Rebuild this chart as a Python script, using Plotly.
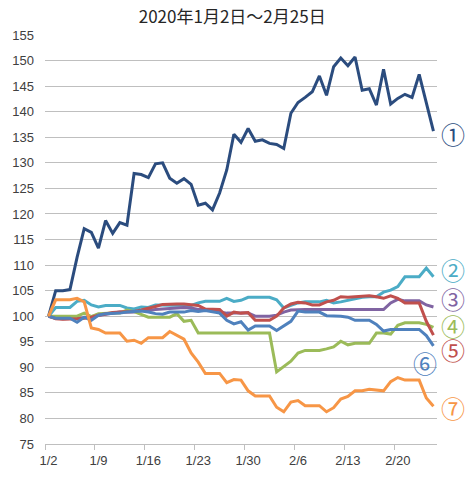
import plotly.graph_objects as go

# one category per calendar day, 2020-01-02 .. 2020-02-25
days = list(range(55))
tick_pos = [0, 7, 14, 21, 28, 35, 42, 49]
tick_text = ["1/2", "1/9", "1/16", "1/23", "1/30", "2/6", "2/13", "2/20"]

s1 = [100, 105, 105, 105.2, 111.5, 117.1, 116.4, 113.3, 118.7, 116.2,
      118.3, 117.8, 127.9, 127.7, 127.1, 129.8, 130.0, 127.0, 126.0, 126.9,
      125.8, 121.7, 122.1, 120.8, 124.1, 128.6, 135.6, 134.0, 136.7, 134.2,
      134.5, 133.8, 133.6, 132.8, 139.7, 141.8, 142.8, 143.9, 147.0, 143.2,
      148.8, 150.5, 149.0, 150.7, 144.2, 144.5, 141.3, 148.3, 141.5, 142.6,
      143.4, 142.8, 147.3, 141.8, 136.2]
s2 = [100, 101.7, 101.7, 101.7, 102.9, 103.1, 102.2, 101.8, 102.1, 102.1,
      102.1, 101.6, 101.4, 101.8, 101.7, 102.2, 102.2, 102.1, 102.1, 102.2,
      102.1, 102.6, 102.9, 102.9, 102.9, 103.5, 102.9, 103.1, 103.7, 103.7,
      103.7, 103.7, 103.2, 101.6, 102.1, 102.6, 102.8, 102.8, 102.8, 103.1,
      102.6, 102.8, 103.1, 103.5, 103.7, 103.8, 103.8, 104.7, 105.1, 105.8,
      107.7, 107.7, 107.7, 109.4, 107.7]
s3 = [100, 99.6, 99.5, 99.5, 99.6, 99.7, 99.9, 100.1, 100.4, 100.6,
      100.8, 100.8, 100.8, 101.1, 101.1, 101.3, 101.4, 101.6, 101.7, 101.7,
      101.6, 101.3, 101.3, 101.0, 100.8, 100.6, 100.6, 100.6, 100.6, 100.0,
      100.0, 100.0, 100.2, 100.8, 101.2, 101.3, 101.3, 101.3, 101.3, 101.3,
      101.3, 101.4, 101.3, 101.3, 101.3, 101.3, 101.3, 101.3, 102.6, 103.3,
      103.0, 103.0, 103.0, 102.2, 101.8]
s4 = [100, 100, 100, 100, 100, 100.6, 99.9, 100.5, 100.6, 100.6,
      100.6, 101.2, 100.9, 100.3, 99.8, 99.8, 99.8, 99.8, 100.5, 99.0,
      99.2, 96.7, 96.7, 96.7, 96.7, 96.7, 96.7, 96.7, 96.7, 96.7,
      96.7, 96.7, 89.1, 90.1, 91.2, 92.8, 93.3, 93.3, 93.3, 93.6,
      94.0, 95.1, 94.4, 94.7, 94.7, 94.7, 96.7, 96.7, 96.5, 98.2,
      98.7, 98.7, 98.7, 98.4, 97.8]
s5 = [100, 99.5, 99.4, 99.4, 99.5, 99.6, 99.8, 100.2, 100.5, 100.7,
      100.8, 100.8, 100.9, 101.2, 101.5, 101.9, 102.3, 102.4, 102.4, 102.4,
      102.3, 102.1, 101.4, 101.3, 101.3, 100.0, 100.8, 100.6, 100.7, 99.2,
      99.2, 99.2, 100.0, 101.6, 102.4, 102.7, 102.6, 102.2, 102.2, 102.8,
      103.1, 103.8, 103.7, 103.8, 104.0, 104.0, 103.8, 103.5, 104.0, 103.5,
      102.6, 102.6, 102.6, 99.0, 96.3]
s6 = [100, 99.6, 99.6, 99.6, 98.8, 99.8, 99.2, 100.2, 100.5, 100.5,
      100.6, 100.8, 100.9, 101.0, 100.8, 100.5, 100.4, 100.8, 100.8, 100.8,
      101.1, 100.9, 101.1, 100.9, 100.6, 99.2, 98.5, 98.9, 97.3, 98.1,
      98.1, 98.1, 97.2, 98.1, 99.0, 101.0, 100.8, 100.8, 100.8, 100.1,
      100.1, 100.0, 99.8, 99.2, 99.2, 99.2, 98.4, 97.1, 97.4, 97.4,
      97.4, 97.4, 97.4, 96.2, 94.2]
s7 = [100, 103.2, 103.2, 103.2, 103.5, 102.8, 97.7, 97.4, 96.7, 96.7,
      96.7, 95.1, 95.3, 94.7, 95.8, 95.8, 95.8, 97.0, 96.2, 95.5,
      92.8, 91.0, 88.8, 88.8, 88.8, 87.0, 87.6, 87.5, 85.4, 84.4,
      84.4, 84.4, 82.2, 81.3, 83.2, 83.5, 82.5, 82.5, 82.5, 81.3,
      82.1, 83.8, 84.3, 85.4, 85.4, 85.7, 85.6, 85.4, 87.2, 88.0,
      87.5, 87.5, 87.5, 84.0, 82.4]

series = [s1, s2, s3, s4, s5, s6, s7]
labels = ["①", "②", "③", "④", "⑤", "⑥", "⑦"]
colors = ["#2B4C7E", "#4BACC6", "#8064A2", "#9BBB59", "#C0504D", "#4F81BD", "#F79646"]

# where the circled numbers sit (x in paper units, y in data units)
label_pos = [(1.041, 135.8), (1.041, 109.2), (1.041, 103.5), (1.041, 98.1),
             (1.041, 93.4), (0.970, 91.0), (1.041, 82.1)]

fig = go.Figure()
for vals, name, c in zip(series, labels, colors):
    fig.add_trace(go.Scatter(x=days, y=vals, mode="lines", name=name,
                             line=dict(color=c, width=3), showlegend=False))

for name, c, (px, py) in zip(labels, colors, label_pos):
    fig.add_annotation(x=px, y=py, xref="paper", yref="y", text=name,
                       showarrow=False, xanchor="center", yanchor="middle",
                       font=dict(family="Noto Sans CJK JP", size=24, color=c))

grid = "#BFBFBF"
fig.update_layout(
    width=470, height=480,
    margin=dict(l=38, r=33, t=35, b=29),
    paper_bgcolor="white", plot_bgcolor="white",
    font=dict(family="Liberation Sans", size=13, color="#404040"),
    title=dict(text="2020年1月2日～2月25日", xref="container", x=0.494,
               yref="container", y=0.964, xanchor="center", yanchor="middle",
               font=dict(family="Noto Sans CJK JP", size=17, color="#262626")),
    xaxis=dict(range=[-0.5, 54.5], tickmode="array", tickvals=tick_pos,
               ticktext=tick_text, ticks="", showgrid=False, zeroline=False,
               showline=True, linecolor=grid, linewidth=1,
               ticklabelstandoff=4,
               minor=dict(tickmode="array",
                          tickvals=[p - 0.5 for p in tick_pos],
                          ticks="outside", ticklen=5, tickcolor=grid,
                          showgrid=False)),
    yaxis=dict(range=[75, 155], dtick=5, showgrid=True, gridcolor=grid,
               gridwidth=1, zeroline=False, showline=False, ticks="",
               ticklabelstandoff=10),
)

# the page's default body margin would push the 470x480 figure off the window
fig.write_html("out.html", config={"displayModeBar": False},
               post_script="document.body.style.margin='0';")
